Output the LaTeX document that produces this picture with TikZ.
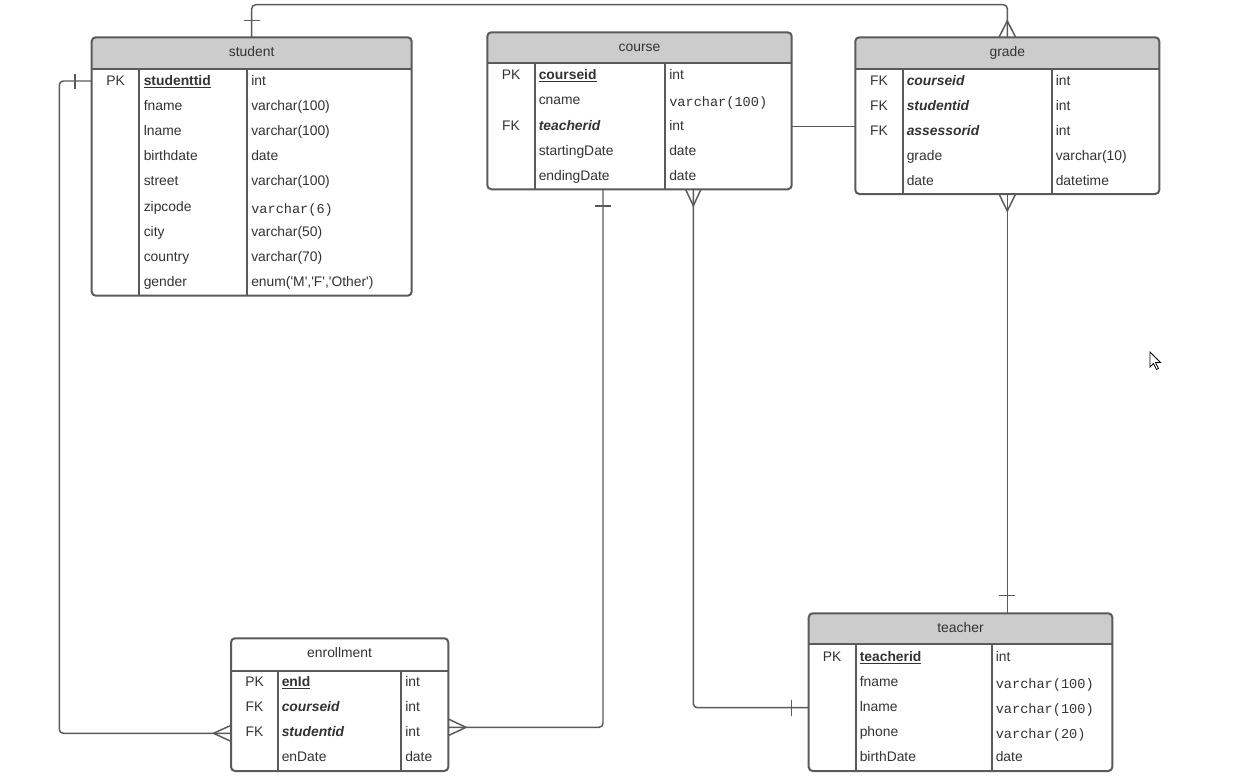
\documentclass[tikz,border=0pt]{standalone}
\usepackage{fontspec}
\setmainfont{Liberation Sans}
\setmonofont{Liberation Mono}
\usetikzlibrary{calc}
\definecolor{ln}{HTML}{5A5A5A}
\definecolor{hd}{HTML}{CCCCCC}
\definecolor{tx}{HTML}{333333}
\newlength\px \setlength\px{0.75pt}
\newcommand\mtt[1]{\raisebox{-1.5pt}{\fontsize{10.2}{12}\selectfont\ttfamily #1}}
\newcommand\q{\textquotesingle}
\newcommand\pkn[1]{\underline{\textbf{#1}}}
\newcommand\fkn[1]{\textbf{\textit{#1}}}
\tikzset{
  tbox/.style={draw=ln, line width=1.5pt, rounded corners=3pt, inner sep=0pt, outer sep=0pt},
  sepline/.style={draw=ln, line width=1.5pt},
  conn/.style={draw=ln, line width=1.1pt, rounded corners=3pt},
  crow/.style={draw=ln, line width=1.1pt},
  cell/.style={anchor=base west, inner sep=0pt, text=tx, font=\fontsize{10.4}{12}\selectfont},
  keycell/.style={anchor=base, inner sep=0pt, text=tx, font=\fontsize{10.4}{12}\selectfont},
}
% name, x1, y1, x2, y2, header bottom, divider 1, divider 2, header fill
\newcommand\ertable[9]{%
  \begin{scope}
    \clip[rounded corners=3pt] (#2,#3) rectangle (#4,#5);
    \fill[#9] (#2,#3) rectangle (#4,#6);
  \end{scope}
  \node[tbox, anchor=north west, minimum width={(#4-#2)*\px}, minimum height={(#5-#3)*\px}] (#1) at (#2,#3) {};
  \draw[sepline] (#2,#6) -- (#4,#6);
  \draw[sepline] (#7,#6) -- (#7,#5);
  \draw[sepline] (#8,#6) -- (#8,#5);
}
% prefix, key x, name x, type x, row centre y, key, name, type
\newcommand\errow[8]{%
  \node[keycell] (#1k) at (#2,#5+5) {#6};
  \node[cell] (#1n) at (#3,#5+5) {#7};
  \node[cell] (#1t) at (#4,#5+5) {#8};
}
\begin{document}
\begin{tikzpicture}[x=0.75pt, y=-0.75pt]
\fill[white] (0,0) rectangle (1234,778);
\useasboundingbox (0,0) rectangle (1234,778);

% ---------- student ----------
\ertable{student}{91.7}{37.3}{411.7}{295.7}{69}{139.3}{246.7}{hd}
\node[keycell] (studentT) at (251.7,56.5) {student};
\errow{st1}{115.5}{143.5}{251}{80}{PK}{\pkn{studenttid}}{int}
\errow{st2}{115.5}{143.5}{251}{105.2}{}{fname}{varchar(100)}
\errow{st3}{115.5}{143.5}{251}{130.4}{}{lname}{varchar(100)}
\errow{st4}{115.5}{143.5}{251}{155.6}{}{birthdate}{date}
\errow{st5}{115.5}{143.5}{251}{180.8}{}{street}{varchar(100)}
\errow{st6}{115.5}{143.5}{251}{206}{}{zipcode}{\mtt{varchar(6)}}
\errow{st7}{115.5}{143.5}{251}{231.2}{}{city}{varchar(50)}
\errow{st8}{115.5}{143.5}{251}{256.4}{}{country}{varchar(70)}
\errow{st9}{115.5}{143.5}{251}{281.6}{}{gender}{enum(\q M\q,\q F\q,\q Other\q)}

% ---------- course ----------
\ertable{course}{487.3}{32.3}{791.7}{189.3}{63.3}{535}{665}{hd}
\node[keycell] (courseT) at (639.5,51.2) {course};
\errow{co1}{511}{538.5}{669}{74.7}{PK}{\pkn{courseid}}{int}
\errow{co2}{511}{538.5}{669}{99.9}{}{cname}{\mtt{varchar(100)}}
\errow{co3}{511}{538.5}{669}{125.1}{FK}{\fkn{teacherid}}{int}
\errow{co4}{511}{538.5}{669}{150.3}{}{startingDate}{date}
\errow{co5}{511}{538.5}{669}{175.5}{}{endingDate}{date}

% ---------- grade ----------
\ertable{grade}{855.3}{37.3}{1159.3}{194}{69.3}{902.7}{1051.7}{hd}
\node[keycell] (gradeT) at (1007.3,56.5) {grade};
\errow{gr1}{879}{906.5}{1055.5}{80}{FK}{\fkn{courseid}}{int}
\errow{gr2}{879}{906.5}{1055.5}{105.2}{FK}{\fkn{studentid}}{int}
\errow{gr3}{879}{906.5}{1055.5}{130.4}{FK}{\fkn{assessorid}}{int}
\errow{gr4}{879}{906.5}{1055.5}{155.6}{}{grade}{varchar(10)}
\errow{gr5}{879}{906.5}{1055.5}{180.8}{}{date}{datetime}

% ---------- enrollment ----------
\ertable{enrollment}{231}{638.3}{448.3}{771}{670.7}{277.7}{401}{white}
\node[keycell] (enrollmentT) at (339.6,657.5) {enrollment};
\errow{en1}{254.5}{281.5}{405}{681}{PK}{\pkn{enId}}{int}
\errow{en2}{254.5}{281.5}{405}{706.2}{FK}{\fkn{courseid}}{int}
\errow{en3}{254.5}{281.5}{405}{731.4}{FK}{\fkn{studentid}}{int}
\errow{en4}{254.5}{281.5}{405}{756.6}{}{enDate}{date}

% ---------- teacher ----------
\ertable{teacher}{808.7}{613.3}{1112.3}{771}{644.3}{855.7}{991.7}{hd}
\node[keycell] (teacherT) at (960.5,632.5) {teacher};
\errow{te1}{832}{859.5}{995.5}{656}{PK}{\pkn{teacherid}}{int}
\errow{te2}{832}{859.5}{995.5}{681.2}{}{fname}{\mtt{varchar(100)}}
\errow{te3}{832}{859.5}{995.5}{706.4}{}{lname}{\mtt{varchar(100)}}
\errow{te4}{832}{859.5}{995.5}{731.6}{}{phone}{\mtt{varchar(20)}}
\errow{te5}{832}{859.5}{995.5}{756.8}{}{birthDate}{date}

% ---------- connectors ----------
% student -- grade (top)
\coordinate (topway) at (640,4.7);
\draw[conn] (student.north) |- (topway) -| (grade.north);
\draw[crow] ($(student.north)+(-8,-17)$) -- ($(student.north)+(8,-17)$);
\draw[crow] ($(grade.north)+(-8.3,0)$) -- ($(grade.north)+(0,-16.5)$) -- ($(grade.north)+(8.3,0)$);

% student -- enrollment
\coordinate (stL) at ($(student.north west)+(0,43.7)$);
\coordinate (enL) at ($(enrollment.north west)+(0,95)$);
\draw[conn] (stL) -- ++(-32.4,0) |- (enL);
\draw[crow] ($(stL)+(-16.7,-7.5)$) -- ($(stL)+(-16.7,7.5)$);
\draw[crow] ($(enL)+(0,-8)$) -- ($(enL)+(-17.5,0)$) -- ($(enL)+(0,8)$);

% enrollment -- course
\coordinate (enR) at ($(enrollment.north east)+(0,89)$);
\coordinate (coB1) at ($(course.south west)+(115.7,0)$);
\draw[conn] (enR) -| (coB1);
\draw[crow] ($(enR)+(0,-8.3)$) -- ($(enR)+(17.7,0)$) -- ($(enR)+(0,8.3)$);
\draw[crow] ($(coB1)+(-8,16.7)$) -- ($(coB1)+(8,16.7)$);

% course -- teacher
\coordinate (coB2) at ($(course.south west)+(206,0)$);
\coordinate (teL) at ($(teacher.north west)+(0,94.4)$);
\draw[conn] (coB2) |- (teL);
\draw[crow] ($(coB2)+(-7.7,0)$) -- ($(coB2)+(0,16.5)$) -- ($(coB2)+(7.7,0)$);
\draw[crow] ($(teL)+(-17,-7.8)$) -- ($(teL)+(-17,7.8)$);

% course -- grade
\coordinate (coR) at ($(course.north east)+(0,94.4)$);
\draw[conn] (coR) -- (grade.west |- coR);

% grade -- teacher
\coordinate (teT) at (grade.south |- teacher.north);
\draw[conn] (grade.south) -- (teT);
\draw[crow] ($(grade.south)+(-8.3,0)$) -- ($(grade.south)+(0,17)$) -- ($(grade.south)+(8.3,0)$);
\draw[crow] ($(teT)+(-8,-17.6)$) -- ($(teT)+(8,-17.6)$);

% mouse cursor
\draw[black, fill=white, line width=0.6pt, line join=miter]
  (1150,352) -- (1150,367) -- (1153.5,363.5) -- (1156.5,369.5) -- (1158.5,368.5)
  -- (1155.5,362.5) -- (1160.5,362.5) -- cycle;
\end{tikzpicture}
\end{document}
